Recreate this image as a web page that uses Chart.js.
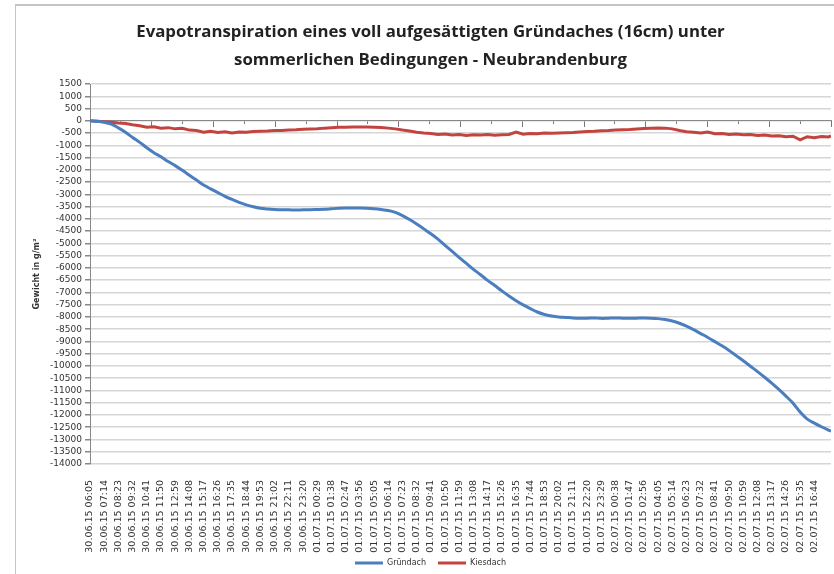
<!DOCTYPE html>
<html>
<head>
<meta charset="utf-8">
<script src="https://cdn.jsdelivr.net/npm/chart.js@4"></script>
<style>
    html, body { margin: 0; padding: 0; background: #fff; }
    #wrap { position: relative; width: 834px; height: 574px; overflow: hidden; }
    #frame { position: absolute; left: 15px; top: 4px; width: 900px; height: 700px;
             border-left: 1px solid #c4c4c4; border-top: 2px solid #c4c4c4; }
    canvas { position: absolute; left: 0; top: 0; }
</style>
</head>
<body>
<div id="wrap">
    <div id="frame"></div>
    <canvas id="chart" width="834" height="574"></canvas>
</div>
<script>
// tick labels on the time axis (every 69 minutes)
const tickLabels = [
    '30.06.15 06:05', '30.06.15 07:14', '30.06.15 08:23', '30.06.15 09:32', '30.06.15 10:41',
    '30.06.15 11:50', '30.06.15 12:59', '30.06.15 14:08', '30.06.15 15:17', '30.06.15 16:26',
    '30.06.15 17:35', '30.06.15 18:44', '30.06.15 19:53', '30.06.15 21:02', '30.06.15 22:11',
    '30.06.15 23:20', '01.07.15 00:29', '01.07.15 01:38', '01.07.15 02:47', '01.07.15 03:56',
    '01.07.15 05:05', '01.07.15 06:14', '01.07.15 07:23', '01.07.15 08:32', '01.07.15 09:41',
    '01.07.15 10:50', '01.07.15 11:59', '01.07.15 13:08', '01.07.15 14:17', '01.07.15 15:26',
    '01.07.15 16:35', '01.07.15 17:44', '01.07.15 18:53', '01.07.15 20:02', '01.07.15 21:11',
    '01.07.15 22:20', '01.07.15 23:29', '02.07.15 00:38', '02.07.15 01:47', '02.07.15 02:56',
    '02.07.15 04:05', '02.07.15 05:14', '02.07.15 06:23', '02.07.15 07:32', '02.07.15 08:41',
    '02.07.15 09:50', '02.07.15 10:59', '02.07.15 12:08', '02.07.15 13:17', '02.07.15 14:26',
    '02.07.15 15:35', '02.07.15 16:44'
]

// sample times, minutes after 30.06.15 06:05
const minutes = [
    0, 34.5, 69, 103.5, 138, 172.5, 207, 241.5, 276, 310.5,
    345, 379.5, 414, 448.5, 483, 517.5, 552, 586.5, 621, 655.5,
    690, 724.5, 759, 793.5, 828, 862.5, 897, 931.5, 966, 1000.5,
    1035, 1069.5, 1104, 1138.5, 1173, 1207.5, 1242, 1276.5, 1311, 1345.5,
    1380, 1414.5, 1449, 1483.5, 1518, 1552.5, 1587, 1621.5, 1656, 1690.5,
    1725, 1759.5, 1794, 1828.5, 1863, 1897.5, 1932, 1966.5, 2001, 2035.5,
    2070, 2104.5, 2139, 2173.5, 2208, 2242.5, 2277, 2311.5, 2346, 2380.5,
    2415, 2449.5, 2484, 2518.5, 2553, 2587.5, 2622, 2656.5, 2691, 2725.5,
    2760, 2794.5, 2829, 2863.5, 2898, 2932.5, 2967, 3001.5, 3036, 3070.5,
    3105, 3139.5, 3174, 3208.5, 3243, 3277.5, 3312, 3346.5, 3381, 3415.5,
    3450, 3484.5, 3519, 3553.5, 3588, 3600
]

// Gewicht in g/m2
const gruendach = [
    0, -20, -60, -140, -290, -470, -680, -880, -1100, -1300,
    -1470, -1660, -1830, -2020, -2220, -2420, -2620, -2780, -2930, -3080,
    -3210, -3330, -3430, -3510, -3570, -3600, -3620, -3630, -3630, -3640,
    -3630, -3630, -3620, -3610, -3590, -3570, -3560, -3560, -3560, -3570,
    -3590, -3620, -3660, -3740, -3870, -4030, -4210, -4410, -4610, -4830,
    -5080, -5330, -5580, -5820, -6060, -6280, -6510, -6720, -6940, -7150,
    -7340, -7510, -7660, -7800, -7900, -7960, -8000, -8020, -8040, -8050,
    -8050, -8040, -8060, -8050, -8040, -8050, -8060, -8050, -8040, -8050,
    -8070, -8110, -8170, -8260, -8380, -8520, -8680, -8840, -9010, -9180,
    -9370, -9580, -9790, -10010, -10230, -10460, -10700, -10960, -11230, -11520,
    -11880, -12170, -12330, -12480, -12620, -12660
]
const kiesdach = [
    0, -20, -40, -60, -90, -110, -160, -200, -260, -240,
    -300, -280, -330, -310, -380, -400, -470, -430, -480, -450,
    -500, -460, -470, -440, -430, -420, -400, -400, -380, -370,
    -350, -340, -330, -300, -280, -260, -260, -250, -250, -250,
    -260, -270, -300, -330, -380, -420, -470, -500, -520, -560,
    -540, -580, -560, -600, -570, -580, -560, -590, -570, -560,
    -460, -550, -520, -530, -500, -510, -500, -490, -480, -460,
    -440, -430, -410, -400, -380, -370, -360, -340, -320, -300,
    -290, -300, -330, -400, -450, -470, -500, -460, -530, -520,
    -560, -540, -570, -560, -600, -580, -620, -610, -650, -630,
    -780, -650, -690, -640, -660, -620
]

const seriesNames = ['Gründach', 'Kiesdach']
const titleLines = ['Evapotranspiration eines voll aufgesättigten Gründaches (16cm) unter',
                    'sommerlichen Bedingungen - Neubrandenburg']
const yTitle = 'Gewicht in g/m²'

// minutes between a label and the first one
function labelMinutes(label) {
    const [d, t] = label.split(' ')
    const [dd, mm, yy] = d.split('.').map(Number)
    const [hh, mi] = t.split(':').map(Number)
    return Date.UTC(2000 + yy, mm - 1, dd, hh, mi) / 60000
}
const start = labelMinutes(tickLabels[0])
const tickMinutes = tickLabels.map(l => labelMinutes(l) - start)

function points(values) {
    return values.map((v, i) => ({ x: minutes[i], y: v }))
}

const xEnd = minutes[minutes.length - 1]

new Chart(document.getElementById('chart'), {
    type: 'line',
    data: {
        datasets: [{
            label: seriesNames[0],
            data: points(gruendach),
            borderColor: '#4a7ebf',
            backgroundColor: '#4a7ebf',
            borderWidth: 3,
            pointRadius: 0,
            tension: 0.3
        }, {
            label: seriesNames[1],
            data: points(kiesdach),
            borderColor: '#c3443f',
            backgroundColor: '#c3443f',
            borderWidth: 3,
            pointRadius: 0,
            tension: 0
        }]
    },
    options: {
        responsive: false,
        animation: false,
        // negative bottom padding pushes the legend a little lower
        layout: { padding: { left: 30, right: 3, top: 0, bottom: -3 } },
        plugins: {
            title: {
                display: true,
                text: titleLines,
                color: '#222',
                font: { family: 'Open Sans', size: 16.8, weight: 'bold', lineHeight: '28px' },
                padding: { top: 18, bottom: 10 }
            },
            legend: {
                position: 'bottom',
                labels: {
                    usePointStyle: true,
                    pointStyle: 'line',
                    pointStyleWidth: 28,
                    padding: 12,
                    color: '#333',
                    font: { family: 'DejaVu Sans', size: 8 }
                }
            },
            tooltip: { enabled: false }
        },
        scales: {
            x: {
                type: 'linear',
                min: 0,
                max: xEnd,
                afterBuildTicks: s => { s.ticks = tickMinutes.map(v => ({ value: v })) },
                afterFit: s => {
                    s.height = 83
                    // labels run a little into the legend box, so don't clip them
                    s._computeLabelArea = () => null
                },
                grid: { display: false },
                border: { display: false },
                ticks: {
                    autoSkip: false,
                    minRotation: 90,
                    maxRotation: 90,
                    padding: 8,
                    color: '#333',
                    font: { family: 'DejaVu Sans', size: 9.5 },
                    callback: (v, i) => tickLabels[i]
                }
            },
            xMajor: {
                type: 'linear',
                axis: 'x',
                position: { y: 0 },
                min: 0,
                max: xEnd,
                ticks: { display: false, stepSize: 301, includeBounds: false },
                grid: { drawOnChartArea: false, tickLength: 6, tickColor: '#777' },
                border: { color: '#888', width: 1 }
            },
            xMinor: {
                type: 'linear',
                axis: 'x',
                position: { y: 0 },
                min: 0,
                max: xEnd,
                ticks: { display: false, stepSize: 150.5, includeBounds: false },
                grid: { drawOnChartArea: false, tickLength: 3, tickColor: '#777' },
                border: { color: '#888', width: 1 }
            },
            y: {
                min: -14000,
                max: 1500,
                afterFit: s => { s.width = 60 },
                ticks: {
                    stepSize: 500,
                    autoSkip: false,
                    padding: 3,
                    color: '#333',
                    font: { family: 'DejaVu Sans', size: 9 },
                    callback: v => String(v)
                },
                grid: { color: '#d6d6d6', lineWidth: 1.5, tickLength: 5, tickColor: '#888' },
                border: { color: '#888', width: 1 },
                title: {
                    display: true,
                    text: yTitle,
                    color: '#333',
                    font: { family: 'DejaVu Sans', size: 8, weight: 'bold' },
                    padding: { top: 2, bottom: 0 }
                }
            }
        }
    }
})
</script>
</body>
</html>
